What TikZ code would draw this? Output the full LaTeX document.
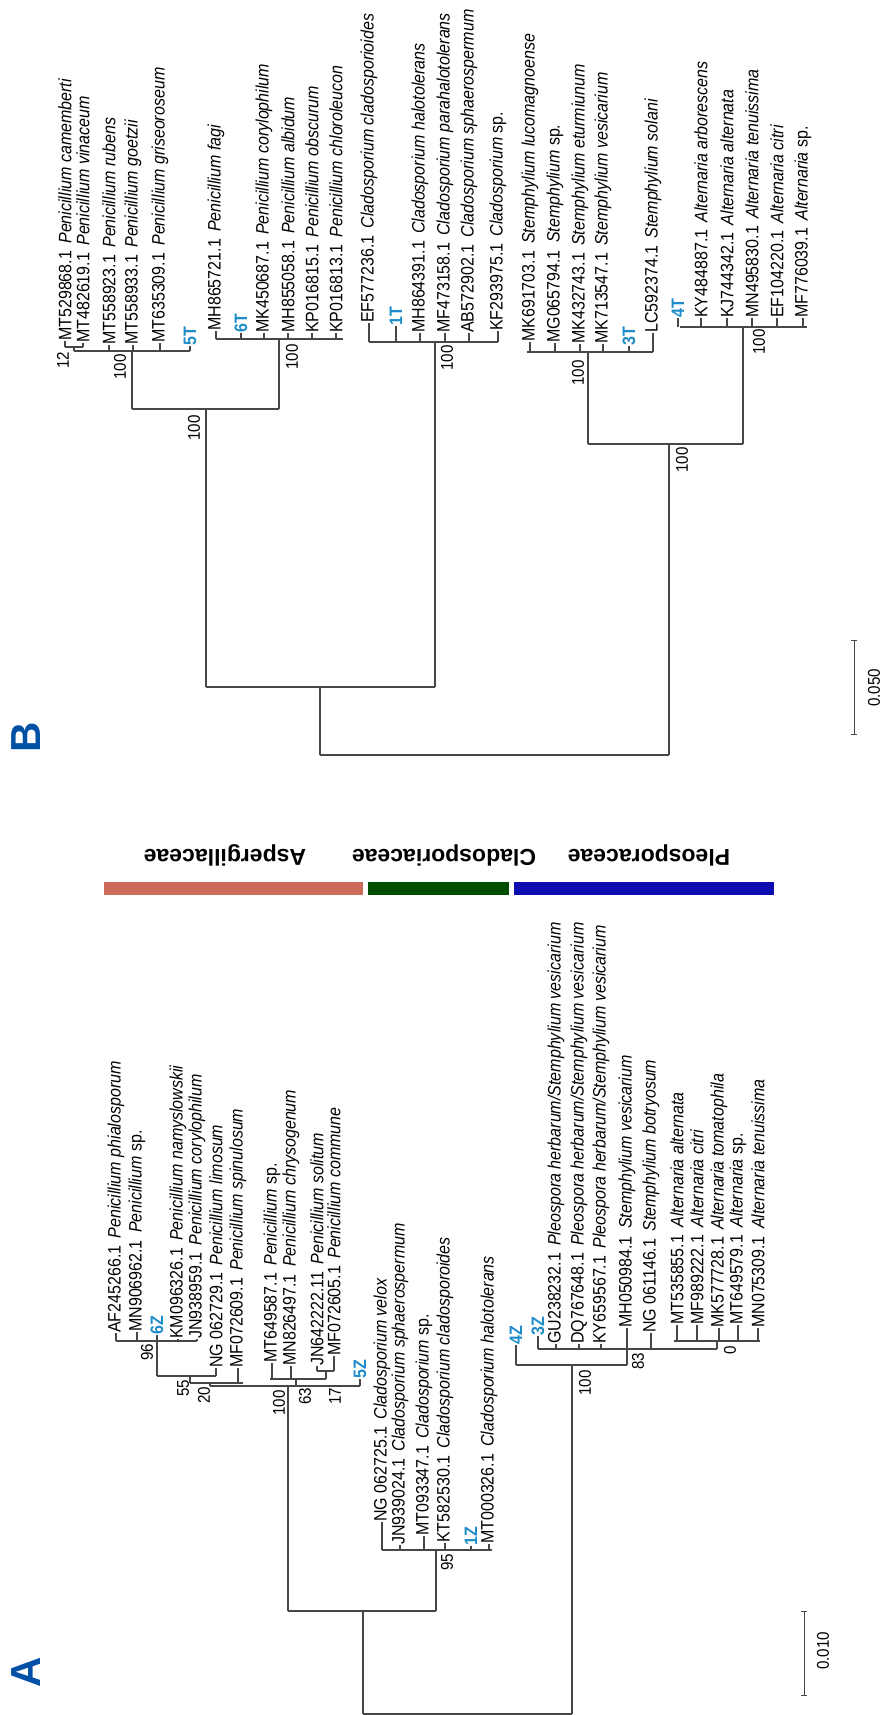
\documentclass[tikz,border=0pt]{standalone}
\usepackage{fontspec}
\setmainfont{Liberation Sans}
\newfontfamily\lbf[FakeStretch=0.89]{Liberation Sans}
\definecolor{tagblue}{RGB}{30,140,200}
\definecolor{panelblue}{RGB}{0,80,165}
\definecolor{famred}{RGB}{205,108,90}
\definecolor{famgreen}{RGB}{0,77,0}
\definecolor{famblue}{RGB}{12,12,176}
\newcommand{\tx}[2]{#1\hspace{0.4em}\textit{#2}}
\newcommand{\myleaf}[5]{\node[lf] (#1) at (#2,#4) {#5}; \draw[br] (#2,#3) -- (#1.west);}
\newcommand{\mytag}[5]{\node[tg] (#1) at (#2,#4) {#5}; \draw[br] (#2,#3) -- (#1.west);}
\begin{document}
\begin{tikzpicture}[x=1pt,y=-1pt,
  br/.style={draw=black!72, line width=1.1pt},
  lf/.style={rotate=90, anchor=west, inner sep=0pt, font=\lbf\fontsize{18}{18}\selectfont},
  tg/.style={rotate=90, anchor=west, inner sep=0pt, font=\lbf\bfseries\fontsize{18}{18}\selectfont, text=tagblue},
  bs/.style={rotate=90, inner sep=0pt, font=\lbf\fontsize{17}{17}\selectfont},
  fam/.style={rotate=180, inner sep=0pt, font=\bfseries\fontsize{23}{23}\selectfont},
  panel/.style={rotate=90, inner sep=0pt, font=\bfseries\fontsize{42}{42}\selectfont, text=panelblue}]
\useasboundingbox (0,0) rectangle (880,1715);

% ================= TREE B =================
% Penicillium group 1
\myleaf{b1}{65}{347}{341}{\tx{MT529868.1}{Penicillium camemberti}}
\myleaf{b2}{83}{347}{343}{\tx{MT482619.1}{Penicillium vinaceum}}
\draw[br] (65,347) -- (83,347);
\draw[br] (74,347) -- (74,351);
\node[bs] (bs12) at (63,360) {12};
\myleaf{b3}{109}{351}{345}{\tx{MT558923.1}{Penicillium rubens}}
\myleaf{b4}{133}{351}{345}{\tx{MT558933.1}{Penicillium goetzii}}
\myleaf{b5}{160}{351}{343}{\tx{MT635309.1}{Penicillium griseoroseum}}
\mytag{b5T}{190}{351}{346}{5T}
\draw[br] (74,351) -- (190,351);
\draw[br] (132,351) -- (132,409);
\node[bs] (bsB1) at (120,367) {100};
% Penicillium group 2
\myleaf{b7}{216}{339}{331}{\tx{MH865721.1}{Penicillium fagi}}
\mytag{b6T}{241}{339}{333}{6T}
\myleaf{b9}{264}{339}{333}{\tx{MK450687.1}{Penicillium corylophilum}}
\myleaf{b10}{288}{339}{333}{\tx{MH855058.1}{Penicillium albidum}}
\myleaf{b11}{312}{339}{333}{\tx{KP016815.1}{Penicillium obscurum}}
\myleaf{b12}{336}{339}{333}{\tx{KP016813.1}{Penicillium chloroleucon}}
\draw[br] (216,339) -- (343,339);
\draw[br] (279,339) -- (279,409);
\node[bs] (bsB2) at (292,357) {100};
\draw[br] (132,409) -- (279,409);
\draw[br] (206,409) -- (206,687);
\node[bs] (bsB3) at (194,428) {100};
% Cladosporium B
\myleaf{b13}{369}{342}{323}{\tx{EF577236.1}{Cladosporium cladosporioides}}
\mytag{b1T}{396}{342}{326}{1T}
\myleaf{b15}{420}{342}{333}{\tx{MH864391.1}{Cladosporium halotolerans}}
\myleaf{b16}{445}{342}{333}{\tx{MF473158.1}{Cladosporium parahalotolerans}}
\myleaf{b17}{469}{342}{333}{\tx{AB572902.1}{Cladosporium sphaerospermum}}
\myleaf{b18}{498}{342}{331}{\tx{KF293975.1}{Cladosporium}\ sp.}
\draw[br] (369,342) -- (498,342);
\draw[br] (435,342) -- (435,687);
\node[bs] (bsB4) at (447,358) {100};
\draw[br] (206,687) -- (435,687);
\draw[br] (320,687) -- (320,755);
% Stemphylium B
\myleaf{b19}{530}{352}{342}{\tx{MK691703.1}{Stemphylium lucomagnoense}}
\myleaf{b20}{555}{352}{343}{\tx{MG065794.1}{Stemphylium}\ sp.}
\myleaf{b21}{580}{352}{344}{\tx{MK432743.1}{Stemphylium eturmiunum}}
\myleaf{b22}{603}{352}{344}{\tx{MK713547.1}{Stemphylium vesicarium}}
\mytag{b3T}{629}{352}{346}{3T}
\myleaf{b24}{653}{352}{333}{\tx{LC592374.1}{Stemphylium solani}}
\draw[br] (527,352) -- (653,352);
\draw[br] (588,352) -- (588,444);
\node[bs] (bsB5) at (578,373) {100};
% Alternaria B
\mytag{b4T}{678}{327}{318}{4T}
\myleaf{b26}{701}{327}{318}{\tx{KY484887.1}{Alternaria arborescens}}
\myleaf{b27}{727}{327}{318}{\tx{KJ744342.1}{Alternaria alternata}}
\myleaf{b28}{752}{327}{318}{\tx{MN495830.1}{Alternaria tenuissima}}
\myleaf{b29}{777}{327}{318}{\tx{EF104220.1}{Alternaria citri}}
\myleaf{b30}{803}{327}{318}{\tx{MF776039.1}{Alternaria}\ sp.}
\draw[br] (680,327) -- (807,327);
\draw[br] (743,327) -- (743,444);
\node[bs] (bsB6) at (759,342) {100};
\draw[br] (588,444) -- (743,444);
\draw[br] (669,444) -- (669,755);
\node[bs] (bsB7) at (682,460) {100};
\draw[br] (320,755) -- (669,755);
% scale B
\coordinate (sB1) at (854,640);
\coordinate (sB2) at (854,734);
\draw[br, line width=0.9pt] (sB1) -- (sB2);
\draw[br, line width=0.9pt] ([xshift=-3pt]sB1) -- ([xshift=3pt]sB1);
\draw[br, line width=0.9pt] ([xshift=-3pt]sB2) -- ([xshift=3pt]sB2);
\node[bs] (scB) at (874,688) {0.050};
\node[panel] (pB) at (26,737) {B};

% ================= FAMILY BARS =================
\node[fam] (fa1) at (225,855) {Aspergillaceae};
\node[fam] (fa2) at (444,855) {Cladosporiaceae};
\node[fam] (fa3) at (649,855) {Pleosporaceae};
\fill[famred] (104,882) rectangle (363,895);
\fill[famgreen] (368,882) rectangle (509,895);
\fill[famblue] (514,882) rectangle (774,895);

% ================= TREE A =================
\myleaf{a1}{116}{1341}{1333}{\tx{AF245266.1}{Penicillium phialosporum}}
\myleaf{a2}{137}{1341}{1332}{\tx{MN906962.1}{Penicillium}\ sp.}
\mytag{a6Z}{157}{1341}{1335}{6Z}
\myleaf{a4}{178}{1341}{1339}{\tx{KM096326.1}{Penicillium namyslowskii}}
\myleaf{a5}{197}{1341}{1339}{\tx{JN938959.1}{Penicillium corylophilum}}
\draw[br] (116,1341) -- (197,1341);
\draw[br] (157,1341) -- (157,1376);
\node[bs] (bsA96) at (147,1352) {96};
\myleaf{a6}{216}{1376}{1368}{\tx{NG 062729.1}{Penicillium limosum}}
\draw[br] (157,1376) -- (216,1376);
\draw[br] (190,1376) -- (190,1383);
\node[bs] (bsA55) at (183,1388) {55};
\myleaf{a7}{238}{1383}{1368}{\tx{MF072609.1}{Penicillium spinulosum}}
\draw[br] (190,1383) -- (243,1383);
\draw[br] (210,1383) -- (210,1386);
\node[bs] (bsA20) at (204,1395) {20};
\myleaf{a8}{272}{1379}{1363}{\tx{MT649587.1}{Penicillium}\ sp.}
\myleaf{a9}{291}{1379}{1366}{\tx{MN826497.1}{Penicillium chrysogenum}}
\myleaf{a10}{317}{1371}{1366}{\tx{JN642222.11}{Penicillium solitum}}
\myleaf{a11}{334}{1371}{1356}{\tx{MF072605.1}{Penicillium commune}}
\draw[br] (317,1371) -- (334,1371);
\draw[br] (326,1371) -- (326,1379);
\node[bs] (bsA17) at (335,1396) {17};
\draw[br] (270,1379) -- (326,1379);
\draw[br] (296,1379) -- (296,1386);
\node[bs] (bsA63) at (305,1396) {63};
\mytag{a5Z}{360}{1386}{1379}{5Z}
\draw[br] (210,1386) -- (360,1386);
\draw[br] (288,1386) -- (288,1611);
\node[bs] (bsA100a) at (279,1403) {100};
% Cladosporium A
\myleaf{a13}{382}{1550}{1522}{\tx{NG 062725.1}{Cladosporium velox}}
\myleaf{a14}{400}{1550}{1545}{\tx{JN939024.1}{Cladosporium sphaerospermum}}
\myleaf{a15}{424}{1550}{1536}{\tx{MT093347.1}{Cladosporium}\ sp.}
\myleaf{a16}{445}{1550}{1543}{\tx{KT582530.1}{Cladosporium cladosporoides}}
\mytag{a1Z}{471}{1550}{1546}{1Z}
\myleaf{a18}{489}{1550}{1544}{\tx{MT000326.1}{Cladosporium halotolerans}}
\draw[br] (382,1550) -- (492,1550);
\draw[br] (436,1550) -- (436,1611);
\node[bs] (bsA95) at (447,1562) {95};
\draw[br] (288,1611) -- (436,1611);
\draw[br] (363,1611) -- (363,1714);
% Pleosporaceae A
\mytag{a4Z}{516}{1365}{1345}{4Z}
\mytag{a3Z}{538}{1349}{1336}{3Z}
\myleaf{a21}{556}{1349}{1344}{\tx{GU238232.1}{Pleospora herbarum/Stemphylium vesicarium}}
\myleaf{a22}{579}{1349}{1344}{\tx{DQ767648.1}{Pleospora herbarum/Stemphylium vesicarium}}
\myleaf{a23}{601}{1349}{1344}{\tx{KY659567.1}{Pleospora herbarum/Stemphylium vesicarium}}
\myleaf{a24}{627}{1365}{1328}{\tx{MH050984.1}{Stemphylium vesicarium}}
\myleaf{a25}{651}{1349}{1333}{\tx{NG 061146.1}{Stemphylium botryosum}}
\node[bs] (bsA83) at (638,1361) {83};
\myleaf{a26}{677}{1341}{1325}{\tx{MT535855.1}{Alternaria alternata}}
\myleaf{a27}{697}{1341}{1325}{\tx{MF989222.1}{Alternaria citri}}
\myleaf{a28}{719}{1341}{1328}{\tx{MK577728.1}{Alternaria tomatophila}}
\myleaf{a29}{738}{1341}{1325}{\tx{MT649579.1}{Alternaria}\ sp.}
\myleaf{a30}{758}{1341}{1328}{\tx{MN075309.1}{Alternaria tenuissima}}
\draw[br] (674,1341) -- (760,1341);
\draw[br] (717,1341) -- (717,1349);
\node[bs] (bsA0) at (730,1350) {0};
\draw[br] (538,1349) -- (717,1349);
\draw[br] (516,1365) -- (627,1365);
\draw[br] (572,1365) -- (572,1714);
\node[bs] (bsA100b) at (585,1383) {100};
\draw[br] (363,1714) -- (572,1714);
% scale A
\coordinate (sA1) at (804,1611);
\coordinate (sA2) at (804,1695);
\draw[br, line width=0.9pt] (sA1) -- (sA2);
\draw[br, line width=0.9pt] ([xshift=-3pt]sA1) -- ([xshift=3pt]sA1);
\draw[br, line width=0.9pt] ([xshift=-3pt]sA2) -- ([xshift=3pt]sA2);
\node[bs] (scA) at (823,1651) {0.010};
\node[panel] (pA) at (26,1672) {A};
\end{tikzpicture}
\end{document}
